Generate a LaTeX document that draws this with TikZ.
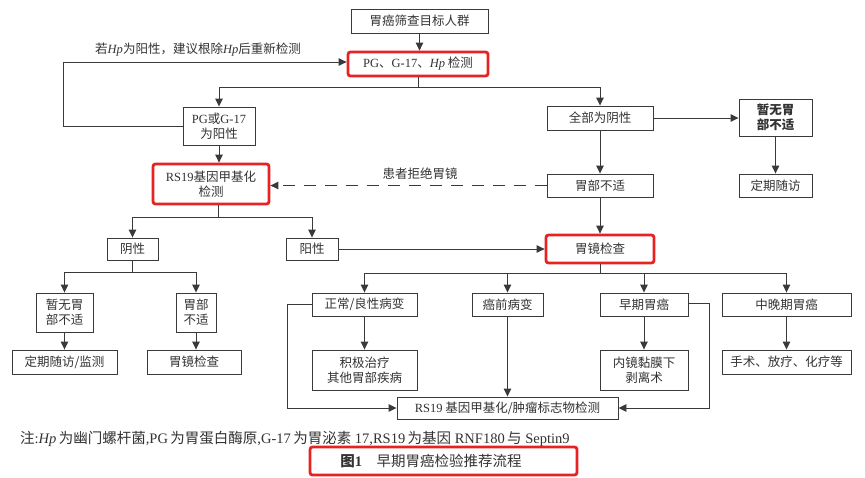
\documentclass[tikz,border=0pt]{standalone}
\usepackage{fontspec}
\setmainfont{Noto Sans CJK SC}
\newfontfamily\lat{Liberation Serif}
\usetikzlibrary{arrows.meta}
\definecolor{ln}{HTML}{3A3A3A}
\definecolor{tx}{HTML}{333333}
\definecolor{rd}{HTML}{E62222}
\tikzset{
  box/.style={draw=ln,line width=0.9pt,text=tx,align=center,inner sep=0pt,
    font=\fontsize{12.5}{15}\selectfont},
  redbox/.style={box,draw=rd,line width=2.8pt,rounded corners=2.5pt},
  con/.style={draw=ln,line width=0.9pt},
  arr/.style={con,-{Triangle[length=8pt,width=7.5pt]}},
  lbl/.style={text=tx,inner sep=0pt,font=\fontsize{12.5}{15}\selectfont},
}
\begin{document}
\begin{tikzpicture}[x=1pt,y=-1pt]
\useasboundingbox[fill=white] (0,0) rectangle (865,477);
% nodes
\node[box,minimum width=137,minimum height=24] (top) at (419.5,21) {胃癌筛查目标人群};
\node[redbox,minimum width=140,minimum height=24] (pg) at (418,64) {{\lat PG}、{\lat G-17}、{\lat\itshape Hp} 检测};
\node[box,minimum width=72,minimum height=38] (pgpos) at (219,126) {{\lat PG}或{\lat G-17}\\为阳性};
\node[box,minimum width=106,minimum height=24] (allneg) at (600,118) {全部为阴性};
\node[box,minimum width=73,minimum height=37] (noneR) at (775.5,117.5) {\bfseries 暂无胃\\\bfseries 部不适};
\node[box,minimum width=73,minimum height=23] (followR) at (775.5,185.5) {定期随访};
\node[box,minimum width=106,minimum height=23] (disc) at (600,185.5) {胃部不适};
\node[redbox,minimum width=116,minimum height=40] (rs) at (211,184) {{\lat RS19}基因甲基化\\检测};
\node[box,minimum width=51,minimum height=22] (neg) at (132.5,249) {阴性};
\node[box,minimum width=52,minimum height=22] (pos) at (312,249) {阳性};
\node[redbox,minimum width=108,minimum height=28] (endo) at (600,249) {胃镜检查};
\node[box,minimum width=57,minimum height=39] (noneL) at (64.5,312.5) {暂无胃\\部不适};
\node[box,minimum width=40,minimum height=39] (discL) at (196,312.5) {胃部\\不适};
\node[box,minimum width=105,minimum height=24] (followL) at (64.5,362) {定期随访/监测};
\node[box,minimum width=94,minimum height=24] (endoL) at (194,362) {胃镜检查};
\node[box,minimum width=105,minimum height=23] (normal) at (364.5,304.5) {正常/良性病变};
\node[box,minimum width=71,minimum height=23] (pre) at (507.5,304.5) {癌前病变};
\node[box,minimum width=88,minimum height=23] (early) at (644,304.5) {早期胃癌};
\node[box,minimum width=129,minimum height=23] (late) at (786.5,304.5) {中晚期胃癌};
\node[box,minimum width=105,minimum height=40] (treat) at (364.5,370) {积极治疗\\其他胃部疾病};
\node[box,minimum width=88,minimum height=40] (esd) at (644,370) {内镜黏膜下\\剥离术};
\node[box,minimum width=129,minimum height=24] (surg) at (786.5,362) {手术、放疗、化疗等};
\node[box,minimum width=221,minimum height=22] (rsb) at (507.5,408) {{\lat RS19} 基因甲基化/肿瘤标志物检测};
% labels
\node[lbl] (l1) at (198,50) {若{\lat\itshape Hp}为阳性，建议根除{\lat\itshape Hp}后重新检测};
\node[lbl] (l2) at (420,174) {患者拒绝胃镜};
\node[lbl,font=\fontsize{14.5}{16}\selectfont,anchor=west] (note) at (20,439) {注{\lat :\itshape Hp}\,为幽门螺杆菌{\lat ,PG}\,为胃蛋白酶原{\lat ,G-17}\,为胃泌素{\lat\ 17,RS19}\,为基因{\lat\ RNF180}\,与{\lat\ Septin9}};
\node[redbox,minimum width=267,minimum height=28] (cap) at (443.5,461) {};
\node[lbl,font=\fontsize{14.5}{16}\selectfont] (capt) at (431,461) {{\bfseries 图{\lat 1}}\quad 早期胃癌检验推荐流程};
% coordinates
\coordinate (pgb) at (418,87);
\coordinate (rsb1) at (218,217);
\coordinate (negb) at (132.5,272);
\coordinate (endob) at (600,273);
% connectors
\draw[arr] (top.south) -- (top.south |- pg.north);
\draw[con] (pg.south) -- (pgb);
\draw[arr] (pgb) -| (pgpos.north);
\draw[arr] (pgb) -| (allneg.north);
\draw[arr] (pgpos.west) -- ++(-119,0) |- ([yshift=2]pg.west);
\draw[arr] (pgpos.south) -- (pgpos.south |- rs.north);
\draw[arr] (allneg.east) -- (noneR.west |- allneg.east);
\draw[arr] (noneR.south) -- (followR.north);
\draw[arr] (allneg.south) -- (disc.north);
\draw[con,dash pattern=on 12pt off 9pt,-{Triangle[length=8pt,width=7.5pt]}] (disc.west) -- (rs.east |- disc.west);
\draw[arr] (disc.south) -- (endo.north);
\draw[con] (rs.south -| rsb1) -- (rsb1);
\draw[arr] (rsb1) -| (neg.north);
\draw[arr] (rsb1) -| (pos.north);
\draw[arr] (pos.east) -- (endo.west |- pos.east);
\draw[con] (neg.south) -- (negb);
\draw[arr] (negb) -| (noneL.north);
\draw[arr] (negb) -| (discL.north);
\draw[arr] (noneL.south) -- (followL.north);
\draw[arr] (discL.south) -- (discL.south |- endoL.north);
\draw[con] (endo.south) -- (endob);
\draw[arr] (endob) -| (normal.north);
\draw[arr] (endob) -| (pre.north);
\draw[arr] (endob) -| (early.north);
\draw[arr] (endob) -| (late.north);
\draw[arr] (normal.south) -- (treat.north);
\draw[arr] (early.south) -- (esd.north);
\draw[arr] (late.south) -- (late.south |- surg.north);
\draw[arr] (pre.south) -- (rsb.north);
\draw[arr] (normal.west) -- ++(-24,0) |- (rsb.west);
\draw[arr] ([yshift=1.5]early.east) -- ++(21,0) |- (rsb.east);
\end{tikzpicture}
\end{document}
